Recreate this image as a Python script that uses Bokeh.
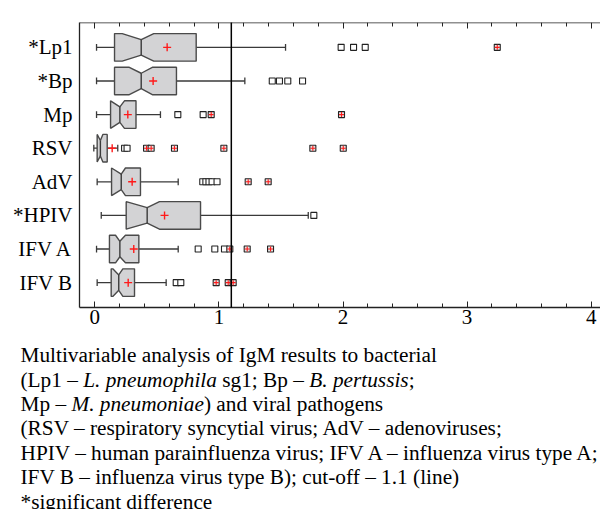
from bokeh.plotting import figure
from bokeh.models import LinearAxis, FixedTicker, Span, ColumnDataSource, Range1d
from bokeh.layouts import column
from bokeh.core.properties import value
from bokeh.embed import file_html
from bokeh.resources import INLINE

# ---------------- data ----------------
categories = ["*Lp1", "*Bp", "Mp", "RSV", "AdV", "*HPIV", "IFV A", "IFV B"]
whisker_lo = [0.014, 0.014, 0.014, -0.008, 0.019, 0.052, 0.014, 0.019]
q1 = [0.159, 0.159, 0.127, 0.019, 0.135, 0.253, 0.118, 0.132]
notch_lo = [0.221, 0.274, 0.127, 0.019, 0.135, 0.253, 0.167, 0.145]
median = [0.374, 0.374, 0.202, 0.045, 0.213, 0.422, 0.202, 0.193]
notch_hi = [0.475, 0.467, 0.239, 0.065, 0.247, 0.521, 0.247, 0.226]
q3 = [0.817, 0.658, 0.332, 0.100, 0.368, 0.852, 0.355, 0.320]
whisker_hi = [1.537, 1.209, 0.529, 0.185, 0.672, 1.720, 0.672, 0.575]
mean = [0.583, 0.470, 0.266, 0.140, 0.301, 0.562, 0.314, 0.269]
outliers = [
    [1.985, 2.085, 2.179],
    [1.430, 1.488, 1.555, 1.674],
    [0.669, 0.873],
    [0.240, 0.260],
    [0.870, 0.895, 0.920, 0.945, 0.985],
    [1.765],
    [0.833, 0.967, 1.045],
    [0.656, 0.693],
]
far_outliers = [
    [3.243],
    [],
    [0.938, 1.988],
    [0.417, 0.454, 0.642, 1.040, 1.757, 2.002],
    [1.236, 1.397],
    [],
    [1.088, 1.228, 1.416],
    [0.978, 1.075, 1.115],
]
cutoff = 1.1
x_ticks = [0, 1, 2, 3, 4]
x_minor_ticks = [0.2, 0.4, 0.6, 0.8, 1.2, 1.4, 1.6, 1.8, 2.2, 2.4, 2.6, 2.8,
                 3.2, 3.4, 3.6, 3.8]

caption_lines = [
    [("Multivariable analysis of IgM results to bacterial", False)],
    [("(Lp1 \u2013 ", False), ("L. pneumophila", True), (" sg1; Bp \u2013 ", False),
     ("B. pertussis", True), (";", False)],
    [("Mp \u2013 ", False), ("M. pneumoniae", True), (") and viral pathogens", False)],
    [("(RSV \u2013 respiratory syncytial virus; AdV \u2013 adenoviruses;", False)],
    [("HPIV \u2013 human parainfluenza virus; IFV A \u2013 influenza virus type A;", False)],
    [("IFV B \u2013 influenza virus type B); cut-off \u2013 1.1 (line)", False)],
    [("*significant difference", False)],
]

# ---------------- layout constants ----------------
W, H1, H2 = 600, 340, 169
FL, FT, FW, FH = 79, 22, 521, 285          # frame in canvas px
X0, X1 = -0.1233, 4.0749
Y0, Y1 = 0.26, 8.74
FONT = "Liberation Serif"

n = len(categories)
ypos = [n - i for i in range(n)]
h, hn, cap = 0.41, 0.23, 0.1

box_xs, box_ys = [], []
for i in range(n):
    y = ypos[i]
    box_xs.append([q1[i], notch_lo[i], median[i], notch_hi[i], q3[i],
                   q3[i], notch_hi[i], median[i], notch_lo[i], q1[i]])
    box_ys.append([y - h, y - h, y - hn, y - h, y - h,
                   y + h, y + h, y + hn, y + h, y + h])

p = figure(width=W, height=H1, x_range=Range1d(X0, X1), y_range=Range1d(Y0, Y1),
           x_axis_type=None, y_axis_type=None, output_backend="svg",
           toolbar_location=None, min_border_left=FL, min_border_right=0,
           min_border_top=FT, min_border_bottom=H1 - FT - FH)
p.outline_line_color = None
p.background_fill_color = "white"
p.border_fill_color = "white"
p.frame_align = False

# cut-off line inside the frame
p.add_layout(Span(location=cutoff, dimension="height", line_color="black", line_width=1.5))

# whiskers
wc = "#3a3a3a"
wsrc = ColumnDataSource(dict(y=ypos, wlo=whisker_lo, whi=whisker_hi, q1=q1, q3=q3,
                             ylo=[y - cap for y in ypos], yhi=[y + cap for y in ypos]))
p.segment("wlo", "y", "q1", "y", source=wsrc, line_color=wc, line_width=1.3)
p.segment("q3", "y", "whi", "y", source=wsrc, line_color=wc, line_width=1.3)
p.segment("wlo", "ylo", "wlo", "yhi", source=wsrc, line_color=wc, line_width=1.3)
p.segment("whi", "ylo", "whi", "yhi", source=wsrc, line_color=wc, line_width=1.3)

# notched boxes
p.patches(box_xs, box_ys, fill_color="#d3d3d5", line_color="#4a4a4a", line_width=1.4)
p.segment(median, [y - hn for y in ypos], median, [y + hn for y in ypos],
          line_color=wc, line_width=1.4)

# means
p.scatter(mean, ypos, marker="cross", size=8, line_color="#ff1a1a", line_width=1.4)

# outliers
ox, oy, fx, fy = [], [], [], []
for i in range(n):
    for v in outliers[i]:
        ox.append(v); oy.append(ypos[i])
    for v in far_outliers[i]:
        fx.append(v); fy.append(ypos[i])
p.scatter(ox, oy, marker="square", size=6, fill_color="white", line_color="#222222",
          line_width=1.1)
p.scatter(fx, fy, marker="square", size=6, fill_color="#e6e6e6", line_color="#222222",
          line_width=1.1)
p.scatter(fx, fy, marker="cross", size=5, line_color="#ff1a1a", line_width=1.1)

# ---------------- axes ----------------
def border_axis(labels, loc=None):
    ax = LinearAxis(ticker=FixedTicker(ticks=x_ticks, minor_ticks=x_minor_ticks),
                    fixed_location=loc)
    ax.axis_line_color = "#222222"
    ax.axis_line_width = 1.3
    ax.major_tick_in = 6
    ax.major_tick_out = 0
    ax.minor_tick_in = 4
    ax.minor_tick_out = 0
    ax.major_tick_line_color = "#222222"
    ax.minor_tick_line_color = "#222222"
    ax.major_label_text_font = FONT
    ax.major_label_text_color = "black"
    if labels:
        ax.major_label_text_font_size = "21px"
        ax.major_label_standoff = 2
    else:
        ax.major_label_overrides = {t: "" for t in x_ticks}
        ax.major_label_text_font_size = "1px"
        ax.major_label_standoff = 0
    return ax

def cut_ext_axis(length, loc):
    # zero-size axis pinned to the frame edge; its single outward tick extends the cut-off line
    ax = LinearAxis(ticker=FixedTicker(ticks=[cutoff], minor_ticks=[]), fixed_location=loc)
    ax.axis_line_color = None
    ax.major_tick_in = 0
    ax.major_tick_out = length
    ax.major_tick_line_color = "black"
    ax.major_tick_line_width = 1.5
    ax.minor_tick_line_color = None
    ax.major_label_overrides = {cutoff: ""}
    ax.major_label_text_font_size = "1px"
    ax.major_label_standoff = 0
    return ax

p.add_layout(border_axis(True), "below")
p.add_layout(cut_ext_axis(15, Y0), "below")
p.add_layout(border_axis(False, Y1), "above")
p.add_layout(cut_ext_axis(10, Y1), "above")

yl = LinearAxis(ticker=FixedTicker(ticks=ypos))
yl.major_label_overrides = {ypos[i]: categories[i] for i in range(n)}
yl.axis_line_color = "#222222"
yl.axis_line_width = 1.3
yl.major_tick_in = 0
yl.major_tick_out = 0
yl.minor_tick_line_color = None
yl.major_label_text_font = FONT
yl.major_label_text_font_size = "21px"
yl.major_label_text_color = "black"
yl.major_label_standoff = 7
p.add_layout(yl, "left")

# ---------------- caption (second svg figure, pixel coordinates) ----------------
ROMAN = {' ': 250, '(': 333, ')': 333, ';': 278, '.': 250, '\u2013': 500, '1': 500,
         'L': 611, 'p': 500, 's': 389, 'g': 500, 'B': 667, 'M': 889}
ITAL = {' ': 250, '.': 250, 'L': 556, 'p': 500, 'n': 500, 'e': 444, 'u': 500, 'm': 722,
        'o': 500, 'h': 500, 'i': 278, 'l': 278, 'a': 500, 'B': 611, 'r': 389, 't': 278,
        's': 389, 'M': 833}
CAP_SIZE = 21.3

def tw(text, italic):
    tab = ITAL if italic else ROMAN
    return sum(tab.get(c, 450) for c in text) * CAP_SIZE / 1000.0

cap_left = 20
base0, step = 354.6 - H1, 24.4
cx_, cy_, ct_, cs_ = [], [], [], []
for li, segs in enumerate(caption_lines):
    px = cap_left
    py = base0 + li * step
    for text, italic in segs:
        lead = len(text) - len(text.lstrip(" "))
        cx_.append(px + tw(" " * lead, italic))
        cy_.append(py)
        ct_.append(text.strip(" "))
        cs_.append("italic" if italic else "normal")
        px += tw(text, italic)

p2 = figure(width=W, height=H2, x_range=Range1d(0, W), y_range=Range1d(H2, 0),
            x_axis_type=None, y_axis_type=None, output_backend="svg",
            toolbar_location=None, min_border=0, min_border_left=0, min_border_right=0,
            min_border_top=0, min_border_bottom=0)
p2.outline_line_color = None
p2.frame_align = False
p2.text(x="x", y="y", text="text", text_font_style="style",
        source=ColumnDataSource(dict(x=cx_, y=cy_, text=ct_, style=cs_)),
        text_font=value(FONT), text_font_size=value(f"{CAP_SIZE}px"),
        text_color="black", text_baseline="alphabetic", text_align="left")

layout = column(p, p2, spacing=0)
open("out.html", "w").write(file_html(layout, INLINE))
